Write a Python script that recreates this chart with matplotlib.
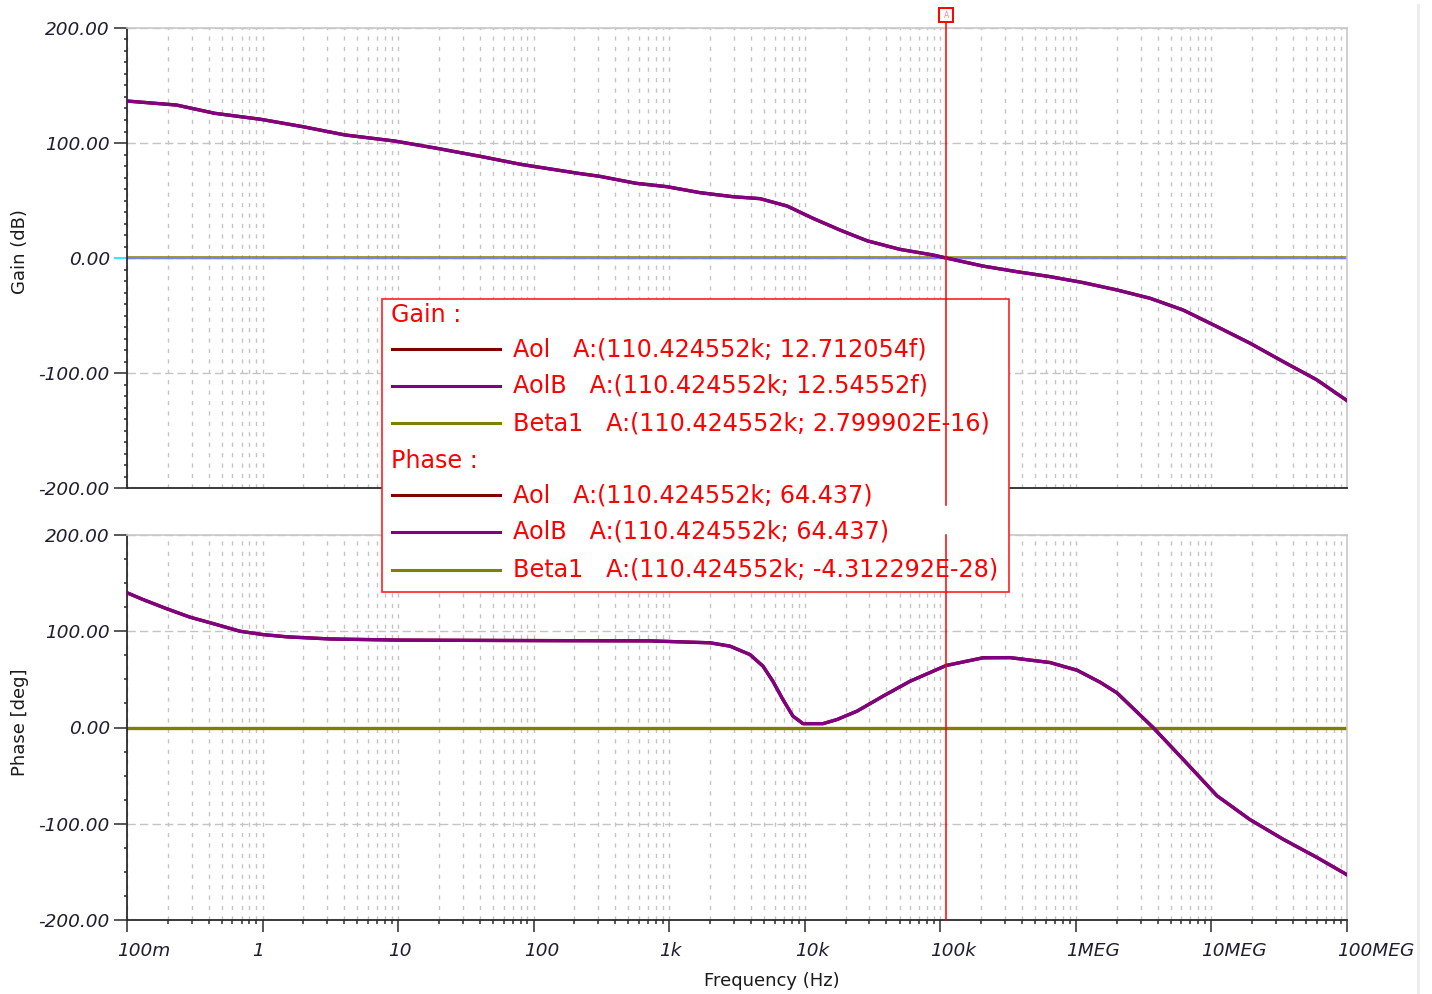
import numpy as np
import matplotlib
matplotlib.use("Agg")
import matplotlib.pyplot as plt
from matplotlib.lines import Line2D
from matplotlib.patches import Rectangle
from matplotlib.ticker import FixedLocator, MultipleLocator, LogLocator, NullFormatter
from matplotlib.transforms import blended_transform_factory, ScaledTranslation, offset_copy

# ==============================================================================
# data
gain_freq = [0.1, 0.232, 0.445, 0.97, 1.98, 4.05, 9.44, 19.3, 42, 80.6, 214, 308,
             566, 962, 1690, 2950, 4680, 7400, 11500, 18200, 28800, 50400, 88300,
             110424.552, 206000, 367000, 644000, 1.13e6, 2.01e6, 3.52e6, 6.17e6,
             11e6, 19.2e6, 33.7e6, 60e6, 100e6]
gain_aolb = [136.5, 133, 125.8, 120.6, 114.2, 107, 101.7, 95.4, 88, 81.4, 73.6, 71,
             65, 62, 56.8, 53.3, 51.6, 45.2, 34.5, 24.3, 15, 7.5, 2.6,
             0, -7, -11.9, -16.2, -21.4, -27.8, -35, -45.2,
             -59.7, -74, -90, -106, -124]
gain_aol = list(gain_aolb)

phase_freq = [0.1, 0.131, 0.197, 0.292, 0.431, 0.682, 1.0, 1.51, 3.14, 10, 100, 721,
              2000, 2810, 3940, 4920, 5820, 6900, 8180, 9700, 13600, 17300, 24300,
              37700, 59700, 110424.552, 206000, 326000, 644000, 1.02e6, 1.51e6,
              2.01e6, 3.71e6, 6.17e6, 11e6, 19.2e6, 33.7e6, 60e6, 100e6]
phase_aolb = [140, 133, 123.3, 114.6, 108, 100, 96.6, 94.2, 92, 90.8, 90.3, 90,
              88, 84.5, 75.8, 63.7, 48, 29, 11.8, 4, 4, 8.3, 17,
              32.5, 48, 64.437, 72.4, 72.6, 67.5, 59.5, 47,
              36, 0, -33, -71, -95.6, -116, -135, -153]
phase_aol = list(phase_aolb)

beta_freq = [0.1, 100e6]
beta_gain = [0, 0]
beta_phase = [0, 0]

cursor_f = 110424.552

xtick_vals = [0.1, 1, 10, 100, 1e3, 1e4, 1e5, 1e6, 1e7, 1e8]
xtick_labels = ["100m", "1", "10", "100", "1k", "10k", "100k", "1MEG", "10MEG", "100MEG"]
ytick_vals = [-200, -100, 0, 100, 200]

legend_rows = [
    ("Gain :", None),
    ("Aol   A:(110.424552k; 12.712054f)", "#800000"),
    ("AolB   A:(110.424552k; 12.54552f)", "#800080"),
    ("Beta1   A:(110.424552k; 2.799902E-16)", "#808000"),
    ("Phase :", None),
    ("Aol   A:(110.424552k; 64.437)", "#800000"),
    ("AolB   A:(110.424552k; 64.437)", "#800080"),
    ("Beta1   A:(110.424552k; -4.312292E-28)", "#808000"),
]

# ==============================================================================
W, H = 1432, 994
fig = plt.figure(figsize=(W / 100, H / 100), dpi=100)
fig.patch.set_facecolor("white")

def fx(px):
    return px / W

def fy(py):
    return 1 - py / H

ax1 = fig.add_axes([fx(127), fy(488), fx(1347) - fx(127), fy(28) - fy(488)])
ax2 = fig.add_axes([fx(127), fy(920), fx(1347) - fx(127), fy(535) - fy(920)])

tick_color = "#1e1e30"
for ax, minor_step in ((ax1, 10), (ax2, 25)):
    ax.set_xscale("log")
    ax.set_xlim(0.1, 1e8)
    ax.set_ylim(-200, 200)
    ax.set_axisbelow(True)
    ax.xaxis.set_major_locator(FixedLocator(xtick_vals))
    ax.xaxis.set_minor_locator(LogLocator(base=10, subs=np.arange(2, 10), numticks=50))
    ax.xaxis.set_minor_formatter(NullFormatter())
    ax.yaxis.set_major_locator(FixedLocator(ytick_vals))
    ax.yaxis.set_minor_locator(MultipleLocator(minor_step))
    ax.set_yticklabels(["%.2f" % v for v in ytick_vals], fontsize=13.3,
                       fontstyle="italic", color=tick_color)
    ax.grid(True, axis="x", which="both", color="#c4c4c4", lw=1.0,
            linestyle=(0, (3, 4.5)))
    ax.grid(True, axis="y", which="major", color="#c4c4c4", lw=1.0,
            linestyle=(0, (6, 3)))
    for side in ("top", "right"):
        ax.spines[side].set_color("#c8c8c8")
        ax.spines[side].set_linewidth(1.2)
    for side in ("left", "bottom"):
        ax.spines[side].set_color("#2a2a2a")
        ax.spines[side].set_linewidth(1.3)
    ax.tick_params(axis="y", which="major", direction="out", length=9.4, width=1.1,
                   pad=3, color="#2a2a2a")
    ax.tick_params(axis="y", which="minor", direction="out", length=2.2, width=1.1,
                   color="#2a2a2a")

ax1.tick_params(axis="x", which="both", bottom=False, labelbottom=False)
ax2.tick_params(axis="x", which="major", direction="out", length=8.6, width=1.1,
                pad=7, color="#2a2a2a")
ax2.tick_params(axis="x", which="minor", direction="out", length=3.1, width=1.1,
                color="#2a2a2a")
ax2.set_xticklabels(xtick_labels, fontsize=13.3, fontstyle="italic", color=tick_color)
shift = ScaledTranslation(-0.10, 0, fig.dpi_scale_trans)
for lab in ax2.get_xticklabels():
    lab.set_horizontalalignment("left")
    lab.set_transform(lab.get_transform() + shift)

# cyan tick at 0 dB
ax1.yaxis.get_major_ticks()[2].tick1line.set_markeredgecolor("#00e0ff")

# ---- gain traces
ax1.axhline(0, color="#7c7cff", lw=1.0, zorder=2)
up1 = offset_copy(ax1.transData, fig=fig, x=0, y=1.2, units="dots")
ax1.plot(beta_freq, beta_gain, color="#808000", lw=1.1, transform=up1, zorder=2.1)
ax1.plot(gain_freq, gain_aol, color="#800000", lw=2.4, zorder=3)
ax1.plot(gain_freq, gain_aolb, color="#800080", lw=2.4, zorder=3.1)

# ---- phase traces
ax2.plot(beta_freq, beta_phase, color="#808000", lw=2.4, zorder=2.1)
ax2.plot(phase_freq, phase_aol, color="#800000", lw=2.4, zorder=3)
ax2.plot(phase_freq, phase_aolb, color="#800080", lw=2.4, zorder=3.1)

# ---- axis labels
fig.text(fx(20), fy(252), "Gain (dB)", rotation=90, ha="center", va="center",
         fontsize=13, color="#1a1a1a")
fig.text(fx(20), fy(722), "Phase [deg]", rotation=90, ha="center", va="center",
         fontsize=13, color="#1a1a1a")
fig.text(fx(772), fy(981), "Frequency (Hz)", ha="center", va="center",
         fontsize=13, color="#1a1a1a")

# ---- legend box with cursor readouts
fig.add_artist(Rectangle((fx(382), fy(592)), fx(1009) - fx(382), fy(299) - fy(592),
                         transform=fig.transFigure, facecolor="white",
                         edgecolor="#ff2020", lw=1.2, zorder=4))
row_y = [315, 349, 386, 423, 461, 495, 532, 570]
for (txt, col), y in zip(legend_rows, row_y):
    if col is None:
        fig.text(fx(391), fy(y), txt, ha="left", va="center", fontsize=17.2,
                 color="#ff0000", zorder=4.5)
    else:
        fig.add_artist(Line2D([fx(392), fx(500)], [fy(y), fy(y)],
                              transform=fig.transFigure, color=col, lw=2.2, zorder=4.5))
        fig.text(fx(513), fy(y), txt, ha="left", va="center", fontsize=17.2,
                 color="#ff0000", zorder=4.5)

# ---- cursor A
tr1 = blended_transform_factory(ax1.transData, ax1.transAxes)
tr2 = blended_transform_factory(ax2.transData, ax2.transAxes)
fig.add_artist(Line2D([cursor_f, cursor_f], [-0.037, 1.011], transform=tr1,
                      color="#ff0000", lw=1.1, zorder=5))
fig.add_artist(Line2D([cursor_f, cursor_f], [0.0, 1.0], transform=tr2,
                      color="#ff0000", lw=1.1, zorder=5))
fig.add_artist(Line2D([cursor_f], [1.028], transform=tr1, marker="s", markersize=10.5,
                      markerfacecolor="white", markeredgecolor="#ff0000",
                      markeredgewidth=1.4, zorder=5))
fig.text(cursor_f, 1.028, "A", transform=tr1, fontsize=5.5, color="#ff8080",
         ha="center", va="center", zorder=6)

# window edge at the right
fig.add_artist(Line2D([fx(1418), fx(1418)], [0, fy(5)], transform=fig.transFigure,
                      color="#ececec", lw=2))

fig.savefig("out.png", dpi=100)
